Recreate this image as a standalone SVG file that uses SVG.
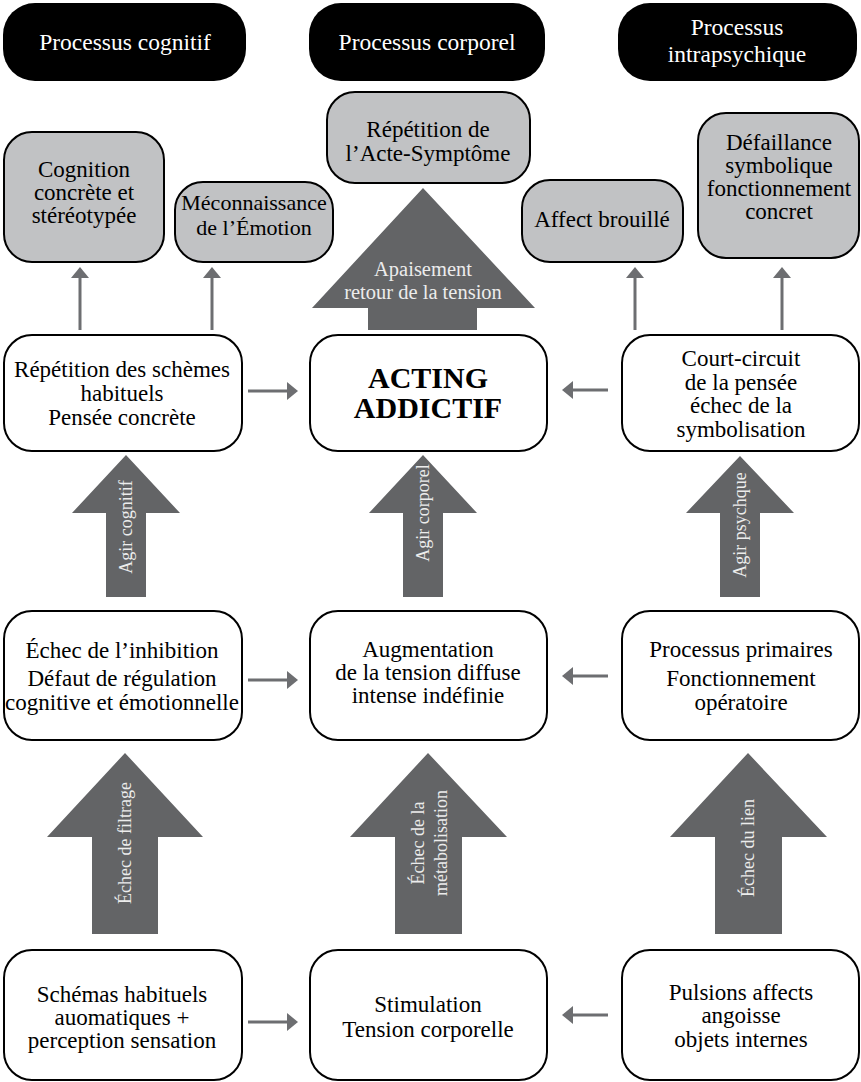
<svg xmlns="http://www.w3.org/2000/svg" width="861" height="1082" viewBox="0 0 861 1082">
<defs>
<style>
.hdr{fill:#000}
.hdrt{fill:#fff;font-family:"Liberation Serif",serif;font-size:23.5px;text-anchor:middle}
.gray{fill:#c1c2c4;stroke:#000;stroke-width:2}
.white{fill:#fff;stroke:#000;stroke-width:2}
.t{fill:#000;font-family:"Liberation Serif",serif;font-size:23px;text-anchor:middle}
.t22{font-size:22px}
.tb{fill:#000;font-family:"Liberation Serif",serif;font-size:30px;font-weight:bold;text-anchor:middle}
.big{fill:#636466}
.bt{fill:#ececec;font-family:"Liberation Serif",serif;font-size:18px;text-anchor:middle}
.at{fill:#ececec;font-family:"Liberation Serif",serif;font-size:20.5px;text-anchor:middle}
.sm{stroke:#6d6e71;stroke-width:3;fill:none;marker-end:url(#ah)}
</style>
<marker id="ah" viewBox="0 0 11 18" refX="0" refY="9" markerWidth="11" markerHeight="18" markerUnits="userSpaceOnUse" orient="auto">
<path d="M0,0 L11,9 L0,18 z" fill="#6d6e71"/>
</marker>
</defs>
<rect width="861" height="1082" fill="#fff"/>

<g id="h1"><rect class="hdr" x="3" y="3" width="243" height="78" rx="32"/><text class="hdrt" x="125" y="50">Processus cognitif</text></g>
<g id="h2"><rect class="hdr" x="309" y="3" width="236" height="78" rx="32"/><text class="hdrt" x="427" y="50">Processus corporel</text></g>
<g id="h3"><rect class="hdr" x="618" y="3" width="239" height="78" rx="32"/><text class="hdrt" x="737" y="35">Processus</text><text class="hdrt" x="737" y="62">intrapsychique</text></g>

<g id="g_cognition"><rect class="gray" x="4" y="132" width="160" height="130" rx="28"/>
<text class="t" x="84" y="177">Cognition</text><text class="t" x="84" y="200">concrète et</text><text class="t" x="84" y="223">stéréotypée</text></g>
<g id="g_meconnaissance"><rect class="gray" x="175" y="182" width="158" height="80" rx="28"/>
<text class="t t22" x="254" y="210">Méconnaissance</text><text class="t t22" x="254" y="235">de l’Émotion</text></g>
<g id="g_repetition"><rect class="gray" x="327" y="92" width="203" height="91" rx="28"/>
<text class="t" x="428" y="137">Répétition de</text><text class="t" x="428" y="161">l’Acte-Symptôme</text></g>
<g id="g_affect"><rect class="gray" x="522" y="180" width="161" height="82" rx="28"/>
<text class="t" x="602" y="227">Affect brouillé</text></g>
<g id="g_defaillance"><rect class="gray" x="698" y="113" width="161" height="145" rx="28"/>
<text class="t" x="779" y="150">Défaillance</text><text class="t" x="779" y="173">symbolique</text><text class="t" x="779" y="196">fonctionnement</text><text class="t" x="779" y="219">concret</text></g>

<g id="n_repetition_schemes"><rect class="white" x="4" y="335" width="238" height="116" rx="28"/>
<text class="t" x="122" y="377">Répétition des schèmes</text><text class="t" x="122" y="401">habituels</text><text class="t" x="122" y="425">Pensée concrète</text></g>
<g id="n_acting"><rect class="white" x="310" y="335" width="237" height="116" rx="28"/>
<text class="tb" x="428" y="388">ACTING</text><text class="tb" x="428" y="418">ADDICTIF</text></g>
<g id="n_court_circuit"><rect class="white" x="622" y="335" width="237" height="116" rx="28"/>
<text class="t" x="741" y="366">Court-circuit</text><text class="t" x="741" y="390">de la pensée</text><text class="t" x="741" y="413">échec de la</text><text class="t" x="741" y="437">symbolisation</text></g>

<g id="n_echec_inhibition"><rect class="white" x="4" y="611" width="238" height="129" rx="28"/>
<text class="t" x="122" y="658">Échec de l’inhibition</text><text class="t" x="122" y="686">Défaut de régulation</text><text class="t" x="122" y="710">cognitive et émotionnelle</text></g>
<g id="n_augmentation"><rect class="white" x="310" y="611" width="237" height="129" rx="28"/>
<text class="t" x="428" y="657">Augmentation</text><text class="t" x="428" y="680">de la tension diffuse</text><text class="t" x="428" y="703">intense indéfinie</text></g>
<g id="n_processus_primaires"><rect class="white" x="622" y="611" width="237" height="129" rx="28"/>
<text class="t" x="741" y="657">Processus primaires</text><text class="t" x="741" y="686">Fonctionnement</text><text class="t" x="741" y="710">opératoire</text></g>

<g id="n_schemas"><rect class="white" x="4" y="950" width="238" height="130" rx="28"/>
<text class="t" x="122" y="1002">Schémas habituels</text><text class="t" x="122" y="1025">auomatiques +</text><text class="t" x="122" y="1048">perception sensation</text></g>
<g id="n_stimulation"><rect class="white" x="310" y="950" width="237" height="130" rx="28"/>
<text class="t" x="428" y="1012">Stimulation</text><text class="t" x="428" y="1037">Tension corporelle</text></g>
<g id="n_pulsions"><rect class="white" x="622" y="950" width="237" height="130" rx="28"/>
<text class="t" x="741" y="1000">Pulsions affects</text><text class="t" x="741" y="1023">angoisse</text><text class="t" x="741" y="1047">objets internes</text></g>

<g id="connectors">
<line class="sm" x1="80" y1="330" x2="80" y2="278"/>
<line class="sm" x1="212" y1="330" x2="212" y2="278"/>
<line class="sm" x1="635" y1="330" x2="635" y2="278"/>
<line class="sm" x1="782" y1="330" x2="782" y2="278"/>
<line class="sm" x1="248" y1="391" x2="287" y2="391"/>
<line class="sm" x1="608" y1="390" x2="573" y2="390"/>
<line class="sm" x1="248" y1="680" x2="287" y2="680"/>
<line class="sm" x1="608" y1="676" x2="573" y2="676"/>
<line class="sm" x1="248" y1="1022" x2="287" y2="1022"/>
<line class="sm" x1="608" y1="1015" x2="573" y2="1015"/>

<g id="a_apaisement"><polygon class="big" points="423,188 535,308 477,308 477,330 368,330 368,308 312,308"/>
<text class="at" x="423" y="276">Apaisement</text><text class="at" x="423" y="299">retour de la tension</text></g>

<g id="a_agir_cognitif"><polygon class="big" points="126,455 180,513 146,513 146,597 106,597 106,513 72,513"/>
<text class="bt" transform="translate(132,527) rotate(-90)">Agir cognitif</text></g>
<g id="a_agir_corporel"><polygon class="big" points="423,455 477,513 443,513 443,597 403,597 403,513 369,513"/>
<text class="bt" transform="translate(429,513) rotate(-90)">Agir corporel</text></g>
<g id="a_agir_psychque"><polygon class="big" points="740,456 794,513 760,513 760,597 720,597 720,513 686,513"/>
<text class="bt" transform="translate(746,525) rotate(-90)">Agir psychque</text></g>

<g id="a_filtrage"><polygon class="big" points="125,753 203,837 158,837 158,934 92,934 92,837 47,837"/>
<text class="bt" transform="translate(131,843) rotate(-90)">Échec de filtrage</text></g>
<g id="a_metabolisation"><polygon class="big" points="428,753 507,837 462,837 462,934 395,934 395,837 350,837"/>
<text class="bt" transform="translate(424,843) rotate(-90)">Échec de la</text>
<text class="bt" transform="translate(447,843) rotate(-90)">métabolisation</text></g>
<g id="a_lien"><polygon class="big" points="748,753 827,837 782,837 782,934 715,934 715,837 670,837"/>
<text class="bt" transform="translate(754,848) rotate(-90)">Échec du lien</text></g>
</g>
</svg>
